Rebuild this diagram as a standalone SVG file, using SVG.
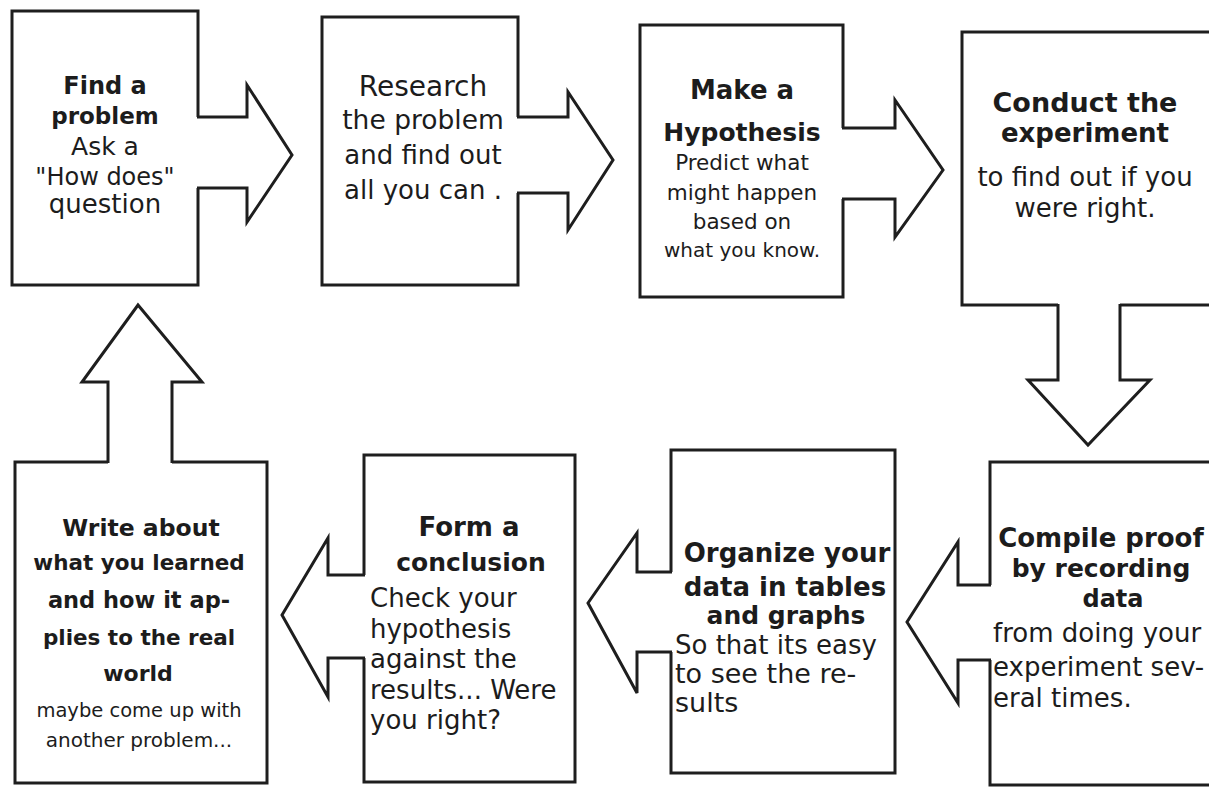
<svg xmlns="http://www.w3.org/2000/svg" width="1209" height="788" viewBox="0 0 1209 788">
<style>
.box{fill:#fff;stroke:#1e1e1e;stroke-width:3;stroke-linejoin:miter}
.af{fill:#fff;stroke:none}
.as{fill:none;stroke:#1e1e1e;stroke-width:3;stroke-linejoin:miter}
text{font-family:"DejaVu Sans","Liberation Sans",sans-serif;fill:#1c1c1c}
.t{font-weight:bold}
.c{text-anchor:middle}
.l{text-anchor:start}
</style>
<rect width="1209" height="788" fill="#fff"/>

<g id="node-find-problem">
<rect class="box" x="12" y="11" width="186" height="274"/>
<text class="t c" x="105" y="94" font-size="24">Find a</text>
<text class="t c" x="105" y="124" font-size="23">problem</text>
<text class="c" x="105" y="155" font-size="25">Ask a</text>
<text class="c" x="105" y="185" font-size="24">"How does"</text>
<text class="c" x="105" y="213" font-size="26">question</text>
</g>

<g id="node-research">
<rect class="box" x="322" y="17" width="196" height="268"/>
<text class="c" x="423" y="96" font-size="28">Research</text>
<text class="c" x="423" y="129" font-size="26.5">the problem</text>
<text class="c" x="423" y="164" font-size="26">and find out</text>
<text class="c" x="423" y="199" font-size="26">all you can .</text>
</g>

<g id="node-hypothesis">
<rect class="box" x="640" y="25" width="203" height="272"/>
<text class="t c" x="742" y="99" font-size="26">Make a</text>
<text class="t c" x="742" y="141" font-size="25">Hypothesis</text>
<text class="c" x="742" y="170" font-size="21.5">Predict what</text>
<text class="c" x="742" y="200" font-size="21.5">might happen</text>
<text class="c" x="742" y="229" font-size="21.5">based on</text>
<text class="c" x="742" y="257" font-size="20">what you know.</text>
</g>

<g id="node-experiment">
<rect class="box" x="962" y="32" width="252" height="273"/>
<text class="t c" x="1085" y="112" font-size="27">Conduct the</text>
<text class="t c" x="1085" y="142" font-size="26">experiment</text>
<text class="c" x="1085" y="186" font-size="26">to find out if you</text>
<text class="c" x="1085" y="217" font-size="26">were right.</text>
</g>

<g id="node-compile-proof">
<rect class="box" x="990" y="462" width="224" height="323"/>
<text class="t c" x="1101" y="547" font-size="26">Compile proof</text>
<text class="t c" x="1101" y="577" font-size="25">by recording</text>
<text class="t c" x="1113" y="607" font-size="24">data</text>
<text class="l" x="993" y="642" font-size="26">from doing your</text>
<text class="l" x="993" y="676" font-size="26">experiment sev-</text>
<text class="l" x="993" y="707" font-size="26">eral times.</text>
</g>

<g id="node-organize">
<rect class="box" x="671" y="450" width="224" height="323"/>
<text class="t c" x="787" y="562" font-size="26">Organize your</text>
<text class="t c" x="785" y="596" font-size="26">data in tables</text>
<text class="t c" x="786" y="624" font-size="25">and graphs</text>
<text class="l" x="675" y="654" font-size="26">So that its easy</text>
<text class="l" x="675" y="683" font-size="27">to see the re-</text>
<text class="l" x="675" y="712" font-size="27">sults</text>
</g>

<g id="node-conclusion">
<rect class="box" x="364" y="455" width="211" height="327"/>
<text class="t c" x="469" y="536" font-size="26">Form a</text>
<text class="t c" x="471" y="571" font-size="25">conclusion</text>
<text class="l" x="370" y="607" font-size="26">Check your</text>
<text class="l" x="370" y="638" font-size="26">hypothesis</text>
<text class="l" x="370" y="668" font-size="26">against the</text>
<text class="l" x="370" y="699" font-size="26">results... Were</text>
<text class="l" x="370" y="729" font-size="26">you right?</text>
</g>

<g id="node-write-about">
<rect class="box" x="15" y="462" width="252" height="321"/>
<text class="t c" x="141" y="536" font-size="23.5">Write about</text>
<text class="t c" x="139" y="570" font-size="21.5">what you learned</text>
<text class="t c" x="139" y="608" font-size="22.5">and how it ap-</text>
<text class="t c" x="139" y="645" font-size="21.5">plies to the real</text>
<text class="t c" x="138" y="681" font-size="22">world</text>
<text class="c" x="139" y="717" font-size="19.5">maybe come up with</text>
<text class="c" x="139" y="747" font-size="20">another problem...</text>
</g>

<g id="connectors">
<g id="arrow-1-2"><path class="af" d="M195,117 L247,117 L247,85 L292,155 L247,222 L247,188 L195,188 Z"/><path class="as" d="M197,117 L247,117 L247,85 L292,155 L247,222 L247,188 L197,188"/></g>
<g id="arrow-2-3"><path class="af" d="M515,117 L568,117 L568,92 L613,160 L568,230 L568,193 L515,193 Z"/><path class="as" d="M517,117 L568,117 L568,92 L613,160 L568,230 L568,193 L517,193"/></g>
<g id="arrow-3-4"><path class="af" d="M840,128 L895,128 L895,100 L943,170 L895,237 L895,199 L840,199 Z"/><path class="as" d="M842,128 L895,128 L895,100 L943,170 L895,237 L895,199 L842,199"/></g>
<g id="arrow-4-5"><path class="af" d="M1120,302 L1120,380 L1150,380 L1088,445 L1028,380 L1058,380 L1058,302 Z"/><path class="as" d="M1120,304 L1120,380 L1150,380 L1088,445 L1028,380 L1058,380 L1058,304"/></g>
<g id="arrow-5-6"><path class="af" d="M993,585 L958,585 L958,542 L907,622 L958,703 L958,660 L993,660 Z"/><path class="as" d="M991,585 L958,585 L958,542 L907,622 L958,703 L958,660 L991,660"/></g>
<g id="arrow-6-7"><path class="af" d="M674,572 L637,572 L637,533 L588,603 L637,693 L637,652 L674,652 Z"/><path class="as" d="M672,572 L637,572 L637,533 L588,603 L637,693 L637,652 L672,652"/></g>
<g id="arrow-7-8"><path class="af" d="M367,575 L328,575 L328,538 L282,615 L328,697 L328,658 L367,658 Z"/><path class="as" d="M365,575 L328,575 L328,538 L282,615 L328,697 L328,658 L365,658"/></g>
<g id="arrow-8-1"><path class="af" d="M108,465 L108,382 L82,382 L138,305 L202,382 L172,382 L172,465 Z"/><path class="as" d="M108,463 L108,382 L82,382 L138,305 L202,382 L172,382 L172,463"/></g>
</g>
</svg>
